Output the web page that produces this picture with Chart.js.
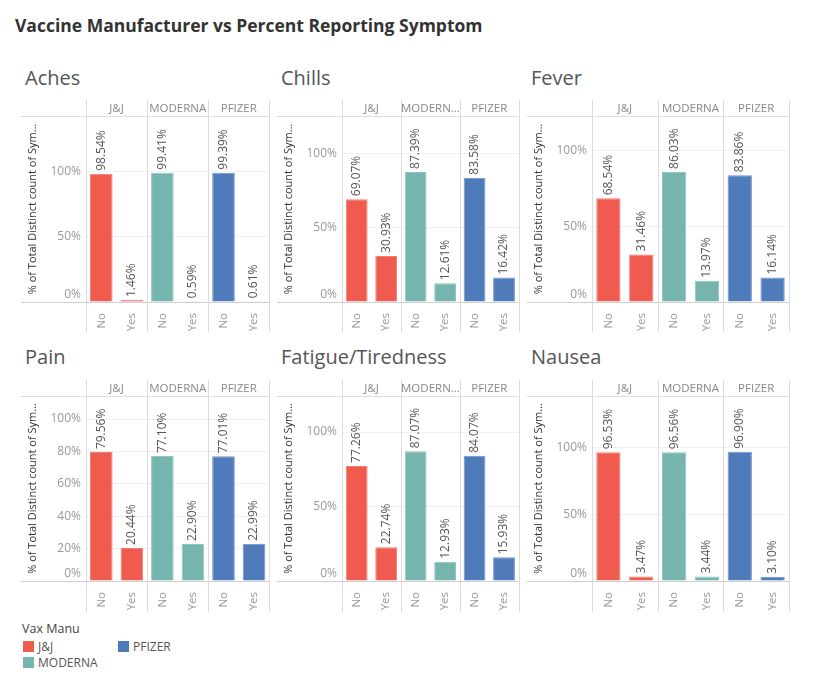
<!DOCTYPE html>
<html><head><meta charset="utf-8">
<script src="https://cdn.jsdelivr.net/npm/chart.js@4.4.1/dist/chart.umd.min.js"></script>
<style>
body{margin:0;background:#fff;font-family:'Open Sans',sans-serif;}
#wrap{position:relative;width:839px;height:687px;overflow:hidden;background:#fff;}
.title{position:absolute;left:15px;top:17px;font-size:17.5px;line-height:17px;font-weight:bold;color:#333;white-space:nowrap;}
.ptitle{position:absolute;font-size:20px;line-height:20px;color:#555;white-space:nowrap;}
canvas{position:absolute;}
.lg-title{position:absolute;left:22px;top:621px;font-size:12.5px;line-height:16px;color:#444;}
.lg-item{position:absolute;font-size:12px;line-height:12px;color:#555;white-space:nowrap;}
.lg-sw{display:inline-block;width:11px;height:11px;vertical-align:top;margin-right:4px;}
</style></head>
<body><div id="wrap"><div class="title">Vaccine Manufacturer vs Percent Reporting Symptom</div></div>
<script>
// ---- data ----
const symptoms = ['Aches', 'Chills', 'Fever', 'Pain', 'Fatigue/Tiredness', 'Nausea'];
const manufacturers = ['J&J', 'MODERNA', 'PFIZER'];
const manufacturersShort = ['J&J', 'MODERN\u2026', 'PFIZER'];
const responses = ['No', 'Yes'];
const aches   = [98.54, 1.46, 99.41, 0.59, 99.39, 0.61];
const chills  = [69.07, 30.93, 87.39, 12.61, 83.58, 16.42];
const fever   = [68.54, 31.46, 86.03, 13.97, 83.86, 16.14];
const pain    = [79.56, 20.44, 77.10, 22.90, 77.01, 22.99];
const fatigue = [77.26, 22.74, 87.07, 12.93, 84.07, 15.93];
const nausea  = [96.53, 3.47, 96.56, 3.44, 96.90, 3.10];
const yTicksStep = [50, 50, 50, 20, 50, 50];
const yAxisTitle = '% of Total Distinct count of Sym\u2026';
const legendTitle = 'Vax Manu';
const colors = ['#f05b4f', '#76b5ad', '#4f7bbb'];
const borderColors = ['#f47d73', '#92c5be', '#6f93c9'];

const seriesList = [aches, chills, fever, pain, fatigue, nausea];

// ---- layout ----
const cols = [
  {left: 21, right: 270, titleX: 25, headers: manufacturers},
  {left: 277, right: 520, titleX: 281, headers: manufacturersShort},
  {left: 527, right: 789, titleX: 531, headers: manufacturers}
];
const rows = [
  {top: 100, plotH: 186, xh: 30, titleTop: 68},
  {top: 380, plotH: 185, xh: 31, titleTop: 347}
];
const yMaxes = [143, 125, 123, 114.2, 124.2, 138.8];

Chart.defaults.font.family = "'Open Sans', sans-serif";

const deco = {
  id: 'deco',
  beforeDatasetsDraw(chart) {
    const {ctx, chartArea: a, scales} = chart;
    const x2 = scales.x2, y = scales.y;
    ctx.save();
    ctx.lineWidth = 1;
    const hl = (yy, col) => {
      const py = Math.round(yy) + 0.5;
      ctx.strokeStyle = col;
      ctx.beginPath(); ctx.moveTo(0, py); ctx.lineTo(a.right, py); ctx.stroke();
    };
    hl(a.top, '#dedede');
    const hdr = x2.getLabels();
    const n = hdr.length;
    const step = x2.getPixelForValue(1) - x2.getPixelForValue(0);
    ctx.strokeStyle = '#dcdcdc';
    for (let k = 0; k <= n; k++) {
      const px = x2.getPixelForValue(0) - step / 2 + k * step;
      let p = Math.round(px) + 0.5;
      if (p > chart.width - 0.5) p = chart.width - 0.5;
      ctx.beginPath(); ctx.moveTo(p, 0); ctx.lineTo(p, chart.height); ctx.stroke();
    }
    hl(y.getPixelForValue(0), '#cfcfcf');
    // header labels
    ctx.font = "11.5px 'Open Sans', sans-serif";
    ctx.fillStyle = '#888';
    ctx.textAlign = 'center';
    ctx.textBaseline = 'middle';
    hdr.forEach((h, k) => ctx.fillText(h, x2.getPixelForValue(k), (x2.top + x2.bottom) / 2 + 1));
    // y tick labels (0% kept above the baseline, as in the original)
    ctx.font = "12px 'Open Sans', sans-serif";
    ctx.fillStyle = '#999';
    ctx.textAlign = 'right';
    y.ticks.forEach(t => {
      const py = y.getPixelForValue(t.value);
      const txt = t.value + '%';
      if (t.value === 0) {
        ctx.textBaseline = 'alphabetic';
        ctx.fillText(txt, y.right - 5, py - 4);
      } else {
        ctx.textBaseline = 'middle';
        ctx.fillText(txt, y.right - 5, py);
      }
    });
    ctx.restore();
  },
  afterDatasetsDraw(chart) {
    const {ctx} = chart;
    const ds = chart.data.datasets[0];
    ctx.save();
    ctx.font = "12px 'Open Sans', sans-serif";
    ctx.fillStyle = '#555';
    ctx.textAlign = 'left';
    ctx.textBaseline = 'middle';
    chart.getDatasetMeta(0).data.forEach((bar, i) => {
      ctx.save();
      ctx.translate(bar.x, bar.y - 3);
      ctx.rotate(-Math.PI / 2);
      ctx.fillText(ds.data[i].toFixed(2) + '%', 0, 0);
      ctx.restore();
    });
    ctx.restore();
  }
};

const wrap = document.getElementById('wrap');
const labels = manufacturers.flatMap(() => responses);
const barColors = manufacturers.flatMap((m, i) => responses.map(() => colors[i]));
const barBorders = manufacturers.flatMap((m, i) => responses.map(() => borderColors[i]));

symptoms.forEach((name, idx) => {
  const col = cols[idx % 3], row = rows[Math.floor(idx / 3)];
  const t = document.createElement('div');
  t.className = 'ptitle';
  t.style.left = col.titleX + 'px';
  t.style.top = row.titleTop + 'px';
  t.textContent = name;
  wrap.appendChild(t);

  const W = col.right - col.left + 1;
  const H = 16 + row.plotH + row.xh;
  const cv = document.createElement('canvas');
  cv.width = W; cv.height = H;
  cv.style.left = col.left + 'px';
  cv.style.top = row.top + 'px';
  cv.style.width = W + 'px'; cv.style.height = H + 'px';
  wrap.appendChild(cv);

  new Chart(cv, {
    type: 'bar',
    data: {
      labels: labels,
      datasets: [{
        data: seriesList[idx],
        backgroundColor: barColors,
        borderColor: barBorders,
        borderWidth: 1,
        categoryPercentage: 1,
        barPercentage: 0.74
      }]
    },
    options: {
      responsive: false,
      animation: false,
      devicePixelRatio: 1,
      layout: {padding: {left: 0, right: 1, top: 0, bottom: 0}},
      plugins: {legend: {display: false}, tooltip: {enabled: false}},
      scales: {
        x: {
          type: 'category',
          position: 'bottom',
          grid: {display: false},
          border: {display: false},
          ticks: {autoSkip: false, minRotation: 90, maxRotation: 90, padding: 3,
                  color: '#999', font: {size: 11.5}},
          afterFit(s) { s.height = row.xh; }
        },
        x2: {
          type: 'category',
          position: 'top',
          labels: col.headers,
          offset: true,
          grid: {display: false},
          border: {display: false},
          ticks: {display: false},
          afterFit(s) { s.height = 16; }
        },
        y: {
          type: 'linear',
          min: 0,
          max: yMaxes[idx],
          grid: {drawTicks: false, color: c => c.tick && c.tick.value === 0 ? 'rgba(0,0,0,0)' : '#f0f0f0'},
          border: {display: false},
          ticks: {display: false, stepSize: yTicksStep[idx], includeBounds: false},
          title: {display: true, text: yAxisTitle, color: '#333', font: {size: 11}, padding: {top: 5, bottom: 0}},
          afterFit(s) { s.width = 65; }
        }
      }
    },
    plugins: [deco]
  });
});

// legend
const lt = document.createElement('div');
lt.className = 'lg-title'; lt.textContent = legendTitle; wrap.appendChild(lt);
const legendPos = [[23, 641], [23, 657], [118, 641]];
manufacturers.forEach((m, i) => {
  const d = document.createElement('div');
  d.className = 'lg-item';
  d.style.left = legendPos[i][0] + 'px';
  d.style.top = legendPos[i][1] + 'px';
  const sw = document.createElement('span');
  sw.className = 'lg-sw'; sw.style.background = colors[i];
  d.appendChild(sw);
  d.appendChild(document.createTextNode(m));
  wrap.appendChild(d);
});
</script>
</body></html>
